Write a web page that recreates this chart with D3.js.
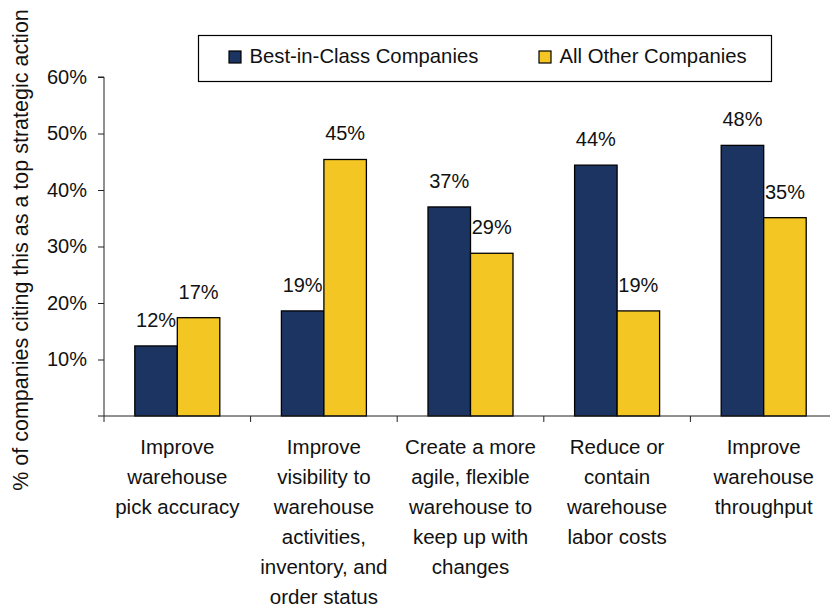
<!DOCTYPE html>
<html>
<head>
<meta charset="utf-8">
<script src="https://cdn.jsdelivr.net/npm/d3@7"></script>
<style>
  html, body { margin: 0; padding: 0; background: #fff; }
  svg { display: block; font-family: Arial, "Liberation Sans", sans-serif; }
</style>
</head>
<body>
<svg id="chart" width="830" height="607"></svg>
<script>
// Strategic actions (each label split into its display lines)
const categories = [
  ["Improve", "warehouse", "pick accuracy"],
  ["Improve", "visibility to", "warehouse", "activities,", "inventory, and", "order status"],
  ["Create a more", "agile, flexible", "warehouse to", "keep up with", "changes"],
  ["Reduce or", "contain", "warehouse", "labor costs"],
  ["Improve", "warehouse", "throughput"]
];
const seriesNames = ["Best-in-Class Companies", "All Other Companies"];
const bestInClass = [12.4, 18.6, 37.0, 44.4, 47.9];
const allOthers   = [17.4, 45.4, 28.8, 18.6, 35.1];
const yTicks = [10, 20, 30, 40, 50, 60];
const yTitle = "% of companies citing this as a top strategic action";

const colors = ["#1c3461", "#f4c623"];
const series = [bestInClass, allOthers];

const svg = d3.select("#chart");

const plotLeft = 104, plotRight = 837, plotTop = 77, plotBottom = 416;

const x = d3.scaleBand()
  .domain(d3.range(categories.length))
  .range([plotLeft, plotRight])
  .paddingInner(0).paddingOuter(0);

const barW = 42.5;
const x1 = d3.scaleBand()
  .domain(d3.range(series.length))
  .range([0, barW * 2]);

const y = d3.scaleLinear().domain([0, 60]).range([plotBottom, plotTop]);

// Bars
series.forEach((vals, si) => {
  svg.append("g")
    .selectAll("rect")
    .data(vals)
    .join("rect")
      .attr("x", (d, i) => x(i) + (x.bandwidth() - barW * 2) / 2 + x1(si))
      .attr("y", d => y(d))
      .attr("width", x1.bandwidth())
      .attr("height", d => y(0) - y(d))
      .attr("fill", colors[si])
      .attr("stroke", "#000")
      .attr("stroke-width", 1.3);

  // Value labels
  svg.append("g")
    .selectAll("text")
    .data(vals)
    .join("text")
      .attr("x", (d, i) => x(i) + (x.bandwidth() - barW * 2) / 2 + x1(si) + x1.bandwidth() / 2)
      .attr("y", d => y(d) - 19)
      .attr("text-anchor", "middle")
      .attr("font-size", "20px")
      .attr("fill", "#111")
      .text(d => Math.round(d) + "%");
});

// Y axis
const yAxis = d3.axisLeft(y)
  .tickValues(yTicks)
  .tickSize(6)
  .tickPadding(11)
  .tickFormat(d => d + "%");

const gy = svg.append("g")
  .attr("transform", `translate(${plotLeft},0)`)
  .call(yAxis);
gy.select(".domain").attr("stroke", "#222").attr("d", `M-6,${plotTop}H0V${plotBottom}`);
gy.selectAll(".tick line").attr("stroke", "#222");
gy.selectAll(".tick text")
  .attr("font-size", "20px")
  .attr("fill", "#111")
  .attr("font-family", "Arial, 'Liberation Sans', sans-serif");

// Zero tick at the bottom of the value axis
svg.append("line")
  .attr("x1", plotLeft - 6).attr("x2", plotLeft)
  .attr("y1", y(0)).attr("y2", y(0))
  .attr("stroke", "#222");

// X axis with boundary ticks between categories
const xAxisLine = svg.append("g");
xAxisLine.append("line")
  .attr("x1", plotLeft).attr("x2", plotRight)
  .attr("y1", y(0)).attr("y2", y(0))
  .attr("stroke", "#222");
xAxisLine.selectAll("line.bound")
  .data(d3.range(categories.length + 1))
  .join("line")
    .attr("class", "bound")
    .attr("x1", i => plotLeft + i * x.bandwidth())
    .attr("x2", i => plotLeft + i * x.bandwidth())
    .attr("y1", y(0)).attr("y2", y(0) + 6)
    .attr("stroke", "#222");

// Category labels
const catG = svg.append("g");
categories.forEach((lines, i) => {
  const t = catG.append("text")
    .attr("text-anchor", "middle")
    .attr("font-size", "20.5px")
    .attr("fill", "#111");
  lines.forEach((ln, k) => {
    t.append("tspan")
      .attr("x", x(i) + x.bandwidth() / 2)
      .attr("y", 454 + k * 30)
      .text(ln);
  });
});

// Y axis title
svg.append("text")
  .attr("transform", `translate(28,250) rotate(-90)`)
  .attr("text-anchor", "middle")
  .attr("font-size", "21.5px")
  .attr("fill", "#111")
  .text(yTitle);

// Legend
const legend = svg.append("g");
legend.append("rect")
  .attr("x", 198.5).attr("y", 35.5)
  .attr("width", 573).attr("height", 46)
  .attr("fill", "#fff")
  .attr("stroke", "#000")
  .attr("stroke-width", 1.2);
const legendX = [229, 539];
seriesNames.forEach((name, si) => {
  legend.append("rect")
    .attr("x", legendX[si]).attr("y", 51)
    .attr("width", 12).attr("height", 12)
    .attr("fill", colors[si])
    .attr("stroke", "#000")
    .attr("stroke-width", 1.2);
  legend.append("text")
    .attr("x", legendX[si] + 20.5)
    .attr("y", 63)
    .attr("font-size", "20.3px")
    .attr("fill", "#111")
    .text(name);
});
</script>
</body>
</html>
